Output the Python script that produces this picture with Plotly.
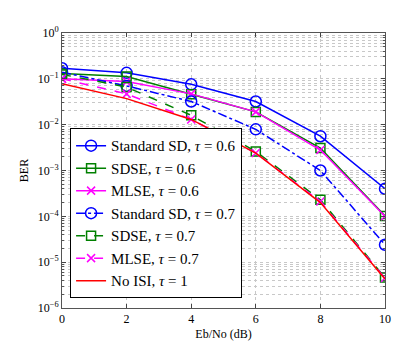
import plotly.graph_objects as go

ebno = [0, 2, 4, 6, 8, 10]

std_sd_06 = [0.17, 0.135, 0.076, 0.032, 0.0056, 4.0e-4]
sdse_06 = [0.13, 0.112, 0.046, 0.019, 0.0031, 1.02e-4]
mlse_06 = [0.10, 0.087, 0.047, 0.019, 0.0028, 1.0e-4]
std_sd_07 = [0.14, 0.07, 0.032, 0.0079, 0.001, 2.4e-5]
sdse_07 = [0.125, 0.066, 0.016, 0.0026, 2.3e-4, 4.6e-6]
mlse_07 = [0.10, 0.047, 0.013, 0.0024, 2.1e-4, 4.5e-6]
no_isi = [0.078, 0.037, 0.013, 0.0024, 2.0e-4, 4.3e-6]

ytick_vals = [1, 0.1, 0.01, 1e-3, 1e-4, 1e-5, 1e-6]
ytick_text = ["10<sup>0</sup>", "10<sup>−1</sup>", "10<sup>−2</sup>", "10<sup>−3</sup>",
              "10<sup>−4</sup>", "10<sup>−5</sup>", "10<sup>−6</sup>"]

series = [
    ("Standard SD, <i>τ</i> = 0.6", std_sd_06, "#0000ff", "solid", "circle-open", 11),
    ("SDSE, <i>τ</i> = 0.6", sdse_06, "#008000", "solid", "square-open", 9),
    ("MLSE, <i>τ</i> = 0.6", mlse_06, "#ff00ff", "solid", "x-thin-open", 8),
    ("Standard SD, <i>τ</i> = 0.7", std_sd_07, "#0000ff", "dashdot", "circle-open", 11),
    ("SDSE, <i>τ</i> = 0.7", sdse_07, "#008000", "dash", "square-open", 9),
    ("MLSE, <i>τ</i> = 0.7", mlse_07, "#ff00ff", "dash", "x-thin-open", 8),
]

serif = "Liberation Serif"

fig = go.Figure()
for name, vals, col, dash, sym, sz in series:
    fig.add_trace(go.Scatter(
        x=ebno, y=vals, name=name, mode="lines+markers",
        line=dict(color=col, width=1.5, dash=dash),
        marker=dict(symbol=sym, size=sz, color=col, line=dict(color=col, width=1.5)),
    ))
fig.add_trace(go.Scatter(
    x=ebno, y=no_isi, name="No ISI, <i>τ</i> = 1", mode="lines",
    line=dict(color="#ff0000", width=1.5),
))

grid = "#c8c8c8"
fig.update_layout(
    width=415, height=343,
    margin=dict(l=54, r=38, t=25, b=38),
    paper_bgcolor="white", plot_bgcolor="white",
    font=dict(family=serif, size=12, color="black"),
    showlegend=True,
    legend=dict(
        x=0.025, y=0.035, xanchor="left", yanchor="bottom",
        bgcolor="white", bordercolor="black", borderwidth=1,
        font=dict(family=serif, size=15),
        tracegroupgap=0, itemwidth=30,
    ),
    xaxis=dict(
        range=[0, 10], tickvals=[0, 2, 4, 6, 8, 10],
        showline=True, linecolor="#555", mirror="ticks", ticks="inside", ticklen=4,
        showgrid=True, gridcolor=grid, griddash="dot", zeroline=False,
        title=dict(text="Eb/No (dB)", standoff=4, font=dict(family=serif, size=12)),
        tickfont=dict(family=serif, size=12),
    ),
    yaxis=dict(
        type="log", range=[-6, 0], tickvals=ytick_vals, ticktext=ytick_text,
        showline=True, linecolor="#555", mirror="ticks", ticks="inside", ticklen=4,
        showgrid=True, gridcolor=grid, griddash="dot", zeroline=False,
        minor=dict(dtick="D1", showgrid=True, gridcolor=grid, griddash="dot",
                   ticks="inside", ticklen=2, tickcolor="#555"),
        title=dict(text="BER", standoff=6, font=dict(family=serif, size=12)),
        tickfont=dict(family=serif, size=12),
    ),
)

fig.write_html("out.html")
